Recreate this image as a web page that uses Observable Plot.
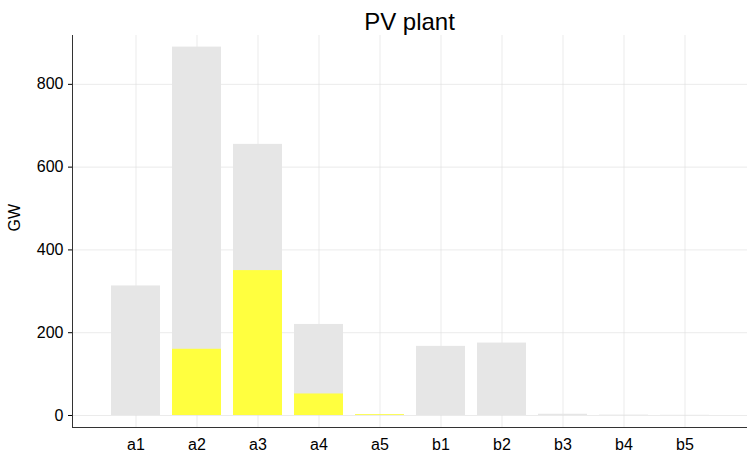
<!DOCTYPE html>
<html>
<head>
<meta charset="utf-8">
<script src="https://cdn.jsdelivr.net/npm/d3@7"></script>
<script src="https://cdn.jsdelivr.net/npm/@observablehq/plot@0.6"></script>
<style>
  body { margin: 0; background: white; font-family: "Liberation Sans", Arial, sans-serif; }
  #title { height: 35px; text-align: center; font-size: 24px; line-height: 44px; padding-left: 72px; box-sizing: border-box; width: 747px; }
</style>
</head>
<body>
<div id="title">PV plant</div>
<div id="chart"></div>
<script>
const regions = ["a1", "a2", "a3", "a4", "a5", "b1", "b2", "b3", "b4", "b5"];
const totalGW = [313, 890, 655, 220, 2, 167, 175, 3, 1, 0.5];
const pvGW = [0, 160, 350, 52, 2, 0, 0, 0, 0, 0];

const data = regions.map((r, i) => ({region: r, total: totalGW[i], pv: pvGW[i]}));

const chart = Plot.plot({
  width: 747,
  height: 423,
  marginLeft: 72,
  marginRight: 0,
  marginTop: 0,
  marginBottom: 31,
  style: {fontFamily: "Liberation Sans, Arial, sans-serif", fontSize: "16px", color: "black"},
  x: {domain: regions, paddingInner: 0.2, paddingOuter: 0.6, label: null},
  y: {domain: [-29, 918], label: null},
  marks: [
    Plot.gridX(regions, {stroke: "#ddd", strokeOpacity: 0.6}),
    Plot.gridY([0, 200, 400, 600, 800], {stroke: "#ddd", strokeOpacity: 0.6}),
    Plot.barY(data, {x: "region", y1: 0, y2: "total", fill: "#e6e6e6"}),
    Plot.barY(data, {x: "region", y1: 0, y2: "pv", fill: "#ffff3f"}),
    Plot.axisY({ticks: [0, 200, 400, 600, 800], tickSize: 4, tickPadding: 5, label: null}),
    Plot.axisX({tickSize: 0, tickPadding: 11, label: null}),
    Plot.frame({anchor: "left", stroke: "#333"}),
    Plot.frame({anchor: "bottom", stroke: "#333"}),
    Plot.text(["GW"], {frameAnchor: "left", dx: -58, rotate: -90, fontSize: 16})
  ]
});
document.getElementById("chart").append(chart);
</script>
</body>
</html>
